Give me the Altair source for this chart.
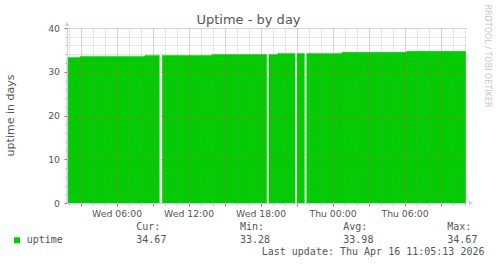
import altair as alt
import pandas as pd

# ---- data (x in hours since Wed 00:00, y = uptime in days) ----
seg_start = [1.87, 2.95, 8.37, 9.81, 13.95, 18.70, 19.45, 21.04, 21.85, 24.79, 30.20]
seg_end = [2.95, 8.37, 9.56, 13.95, 18.51, 19.45, 20.87, 21.65, 24.79, 30.20, 35.09]
seg_value = [33.28, 33.51, 33.74, 33.74, 33.97, 33.97, 34.20, 34.20, 34.20, 34.43, 34.67]

stat_names = ["Cur:", "Min:", "Avg:", "Max:"]
stat_values = ["34.67", "33.28", "33.98", "34.67"]
x_tick_hours = [6, 12, 18, 24, 30]
x_tick_labels = ["Wed 06:00", "Wed 12:00", "Wed 18:00", "Thu 00:00", "Thu 06:00"]
y_tick_values = [0, 10, 20, 30, 40]
series_name = "uptime"
last_update = "Last update: Thu Apr 16 11:05:13 2026"

# ---- layout ----
OX, OY = 67, 28
W, H = 400, 175
X_DOMAIN = [1.87, 1.87 + W / 12]
GREEN = "#00CC00"
TXT = "#555555"
AXC = "#c5cdf5"
SANS = "DejaVu Sans"
MONO = "DejaVu Sans Mono"

df = pd.DataFrame({"start": seg_start, "end": seg_end, "value": seg_value})
xs = alt.Scale(domain=X_DOMAIN, nice=False, zero=False)
ys = alt.Scale(domain=[0, 40], nice=False)


def base(ax, ay, opacity, stroke=True):
    mk = dict(color=GREEN, opacity=opacity)
    if stroke:
        mk.update(stroke=GREEN, strokeWidth=0.5)
    return alt.Chart(df).mark_rect(**mk).encode(
        x=alt.X("start:Q", scale=xs, axis=ax),
        x2="end:Q",
        y=alt.Y("value:Q", scale=ys, axis=ay),
        y2=alt.datum(0),
    )


minor_x = alt.Axis(values=list(range(2, 36)), grid=True, gridColor="#8c8c8c",
                   gridOpacity=0.4, gridDash=[1, 1], ticks=True, tickColor="#b0b0b0",
                   tickSize=2, labels=False, domain=False, title=None,
                   orient="bottom", zindex=1)
minor_y = alt.Axis(values=list(range(0, 41, 2)), grid=True, gridColor="#8c8c8c",
                   gridOpacity=0.4, gridDash=[1, 1], ticks=True, tickColor="#b0b0b0",
                   tickSize=2, labels=False, domain=False, title=None,
                   orient="left", zindex=1)
major_x = alt.Axis(values=list(range(3, 36, 3)), grid=True, gridColor="#dd4444",
                   gridOpacity=0.35, gridDash=[1, 1], ticks=True, tickColor="#e06060",
                   tickSize=3, labels=False, domain=False, title=None,
                   orient="bottom", zindex=1)
major_y = alt.Axis(values=y_tick_values, grid=True, gridColor="#dd4444",
                   gridOpacity=0.35, gridDash=[1, 1], ticks=True, tickColor="#e06060",
                   tickSize=3, labels=False, domain=False, title=None,
                   orient="left", zindex=1)

expr = "''"
for h, lab in reversed(list(zip(x_tick_hours, x_tick_labels))):
    expr = f"datum.value == {h} ? '{lab}' : ({expr})"

label_x = alt.Axis(values=x_tick_hours, labelExpr=expr, grid=False, ticks=False,
                   tickSize=0, labelPadding=13, labelBaseline="alphabetic",
                   labelFont=SANS, labelFontSize=9.3, labelColor=TXT,
                   domain=True, domainColor=AXC, domainWidth=1, title=None,
                   orient="bottom", zindex=2, labelFlush=False, labelOverlap=False)
label_y = alt.Axis(values=y_tick_values, grid=False, ticks=False, tickSize=0,
                   labelPadding=7.5, labelFont=SANS, labelFontSize=9.3,
                   labelColor=TXT, domain=True, domainColor=AXC, domainWidth=1,
                   title=None, orient="left", zindex=2, labelFlush=False,
                   labelOverlap=False)

layer_a = base(minor_x, minor_y, 1.0)
layer_b = base(major_x, major_y, 0.0, stroke=False)
layer_c = base(label_x, label_y, 0.0, stroke=False)

one = alt.Data(values=[{"k": 0}])


def txt(s, x, y, size=10, font=MONO, color=TXT, align="left",
        baseline="middle", angle=0):
    return alt.Chart(one).mark_text(
        text=s, font=font, fontSize=size, color=color, align=align,
        baseline=baseline, angle=angle,
    ).encode(x=alt.value(x - OX), y=alt.value(y - OY))


def sym(shape, x, y, size, color):
    return alt.Chart(one).mark_point(
        shape=shape, filled=True, size=size, color=color, opacity=1, strokeWidth=0
    ).encode(x=alt.value(x - OX), y=alt.value(y - OY))


extras = [
    sym("triangle-right", 471, 203, 22, AXC),
    sym("triangle-up", 67, 24, 22, AXC),
    txt("Uptime - by day", 248.5, 24, size=13, font=SANS, align="center",
        baseline="alphabetic"),
    txt("uptime in days", 11, 115.5, size=11, font=SANS, align="center",
        angle=270),
    txt("RRDTOOL / TOBI OETIKER", 487, 56, size=8, font=SANS, color="#c8c8c8",
        align="center", angle=90),
    sym("square", 17, 240.3, 36, GREEN),
    txt(series_name, 26.7, 240),
    txt(last_update, 261.7, 251.7),
]
for name, val, sx in zip(stat_names, stat_values, [136.3, 240, 343.3, 447.3]):
    extras.append(txt(name, sx, 227.3))
    extras.append(txt(val, sx, 240))

chart = (
    alt.layer(layer_a, layer_b, layer_c, *extras)
    .resolve_axis(x="independent", y="independent")
    .properties(
        width=W, height=H,
        padding={"left": OX, "top": OY, "right": 497 - OX - W, "bottom": 264 - OY - H},
        autosize="none", background="white",
    )
    .configure_view(stroke=None)
)

chart.save("out.html", embed_options={"renderer": "svg", "actions": False})
